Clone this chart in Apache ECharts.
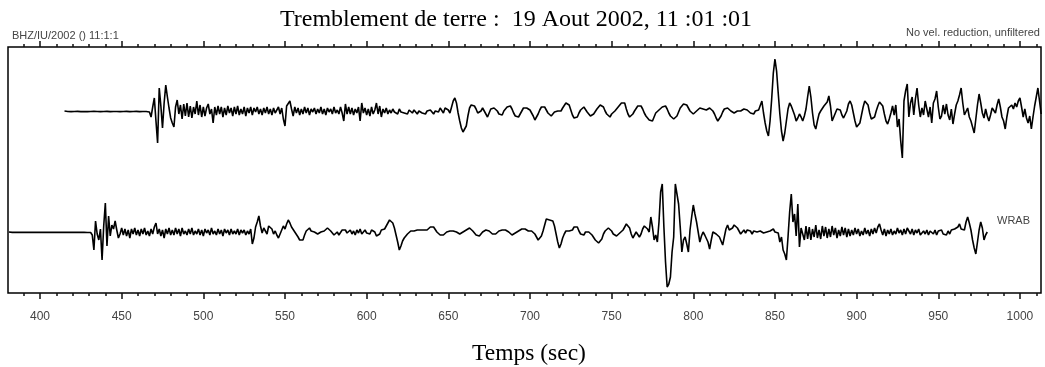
<!DOCTYPE html>
<html>
<head>
<meta charset="utf-8">
<script src="https://cdn.jsdelivr.net/npm/echarts@6/dist/echarts.min.js"></script>
<style>html,body{margin:0;padding:0;background:#fff;}#chart{width:1045px;height:367px;}</style>
</head>
<body>
<div id="chart"></div>
<script>
// ---- data (seconds, relative amplitude) ----
var titleText = 'Tremblement de terre :  19 Aout 2002, 11 :01 :01';
var xAxisName = 'Temps (sec)';
var headerLeft = 'BHZ/IU/2002 () 11:1:1';
var headerRight = 'No vel. reduction, unfiltered';
var stationLabel = 'WRAB';
var majorTicks = [400, 450, 500, 550, 600, 650, 700, 750, 800, 850, 900, 950, 1000];
var minorTicks = [390, 410, 420, 430, 440, 460, 470, 480, 490, 510, 520, 530, 540, 560, 570, 580, 590,
  610, 620, 630, 640, 660, 670, 680, 690, 710, 720, 730, 740, 760, 770, 780, 790, 810, 820, 830, 840,
  860, 870, 880, 890, 910, 920, 930, 940, 960, 970, 980, 990, 1010];
var xMin = 380.4, xMax = 1012.9;

var upperStart = 415; // one value per second
var upperValues = [
  0,0.6,-0.5,0.5,-0.6,0.4,-0.5,0.6,-0.4,0.5,
  -0.6,0.5,-0.5,0.4,-0.6,0.6,-0.5,0.5,-0.4,0.6,
  -0.5,0.4,-0.6,0.5,-0.5,0.6,-0.4,0.5,-0.6,0.5,
  -0.5,0.6,-0.5,0.4,-0.6,0.5,-0.5,0.6,-0.4,0.5,
  -0.6,0.5,-0.5,0.6,-0.4,0.5,-0.6,0.4,-0.5,0.6,
  -0.5,0.5,-1,-6,4,13,-10,-32,23,5,
  -17,8,26,14,3,-7,-12,-16,4,11,
  -3,6,-8,7,-5,8,-6,5,-7,4,
  -3,10,-4,6,-6,4,-5,3,7,-3,
  2,-12,4,-4,5,-3,4,-6,3,-4,
  5,-2,3,-5,4,-3,5,-4,2,-3,
  4,-5,3,-2,4,-4,3,-1,4,-3,
  2,-4,3,-2,4,-3,2,-4,3,-2,
  1,4,-3,3,-8,-15,5,3,10,2,
  -5,4,-2,3,-4,2,-3,4,-2,3,
  -4,2,-1,3,-3,2,-2,4,-3,2,
  -4,3,-1,2,-3,4,-2,1,-3,4,
  -2,-10,7,-3,4,-3,3,-4,2,-2,
  4,-10,8,-2,3,-4,2,-5,4,-3,
  1,8,-3,5,-6,2,-2,3,-3,1,
  -2,2,-1,1,-3,2,-1,1,-2,0,
  -3,1,-1,-2,1,-1,-3,0,2,-2,
  -1,-3,0,-2,1,-1,-3,0,2,-1,
  3,1,-2,3,2,1,-2,4,10,13,
  8,-2,-10,-17,-21,-22,-15,-5,3,6,
  4,5,2,-2,-3,0,3,1,-3,-6,
  -2,2,4,3,4,0,-3,-5,-4,0,
  2,4,6,5,2,-2,-5,-7,-6,-3,
  0,3,4,3,3,1,-2,-5,-9,-8,
  -3,1,4,3,4,1,-2,-4,-5,-4,
  -1,0,0,-2,0,3,5,8,9,6,
  1,-4,-7,-9,-6,-2,1,3,4,2,
  -1,-3,-5,-6,-3,-1,2,4,6,7,
  4,0,-3,-5,-6,-3,-4,0,2,4,
  6,8,7,8,2,-3,-6,-4,-3,0,
  2,5,4,5,2,-2,-5,-7,-9,-10,
  -10,-6,-2,0,1,3,4,5,5,2,
  -2,-5,-7,-8,-8,-5,-1,3,5,7,
  7,6,3,0,-2,-3,-2,0,1,3,
  2,2,0,1,3,3,2,0,-3,-7,
  -10,-9,-5,-1,2,3,3,2,0,-1,
  -2,-1,0,-2,0,1,2,2,1,0,
  -2,-1,-3,0,-2,1,2,10,-2,-12,
  -20,-25,-10,12,38,52,40,18,-3,-20,
  -30,-22,-10,2,8,5,3,-4,-10,-7,
  -3,-6,-10,-5,2,14,25,14,-2,-14,
  -18,-10,-3,0,2,5,5,9,15,5,
  -10,-6,-2,2,3,1,-4,-7,-6,0,
  7,10,6,-2,-10,-16,-18,-12,-4,4,
  10,12,6,-2,-8,-10,-6,0,5,9,
  10,5,-3,-10,-13,-8,-2,5,-4,6,
  -16,-8,-30,-47,10,20,27,-6,8,14,
  -4,12,23,6,-6,3,-4,10,2,-6,
  4,-12,8,12,20,4,-8,-5,6,-3,
  7,-4,-9,2,-13,-3,6,10,16,23,
  8,-4,-5,3,-6,-10,-16,-22,-8,6,
  17,8,-2,-7,2,-5,-10,-4,3,5,
  -2,6,12,4,-6,-10,-18,-6,3,1,
  6,2,8,4,10,13,4,-6,2,-7,
  -12,-5,-18,-6,5,14,23,10,-3
];

var lowerStart = 381; // one value per second
var lowerValues = [
  0,0.4,-0.4,0.3,-0.4,0.4,-0.3,0.4,-0.4,0.3,
  -0.4,0.4,-0.3,0.4,-0.4,0.3,-0.4,0.4,-0.3,0.4,
  -0.4,0.3,-0.4,0.4,-0.3,0.4,-0.4,0.3,-0.4,0.4,
  -0.3,0.4,-0.4,0.3,-0.4,0.4,-0.3,0.4,-0.4,0.3,
  -0.4,0.4,-0.3,0.4,-0.4,0.3,-0.4,0.4,-0.5,0.5,
  -0.5,-3,-18,11,-2,-8,3,-28,6,29,
  -14,16,-4,7,3,11,2,-6,-2,4,
  -3,3,-4,2,-6,3,-2,4,-3,2,
  -4,3,-2,4,-3,1,-4,3,-2,5,
  9,-2,3,-4,2,-6,3,-2,4,-3,
  2,-3,4,-2,3,-4,4,-2,1,-3,
  3,-2,4,-3,1,-2,3,-3,2,-4,
  3,-1,2,-3,4,-2,1,-3,3,-2,
  2,-4,3,-1,2,-3,3,-2,1,-2,
  3,-3,2,-1,2,-3,1,-2,3,-12,
  -6,5,10,16,6,-1,4,2,-2,6,
  8,3,-2,1,-3,-6,-4,2,6,3,
  8,12,9,5,4,0,-2,-5,-8,-6,
  -8,-3,1,2,4,1,2,0,-1,-2,
  -1,0,2,1,3,4,2,1,-1,-3,
  -2,0,-3,-1,2,0,2,-1,1,2,
  -2,1,-3,2,-1,3,-2,0,2,-1,
  1,-2,2,3,0,-4,-6,-2,2,4,
  3,5,9,12,11,9,4,-3,-10,-18,
  -14,-9,-6,-4,-2,0,1,2,1,2,
  2,1,2,1,2,3,2,3,5,6,
  5,3,0,-2,-3,-4,-3,-1,0,1,
  1,2,1,2,0,-1,-2,-1,0,1,
  2,3,4,3,1,-1,-3,-4,-4,-2,
  0,1,2,2,1,-1,-2,-3,-2,0,
  1,2,2,1,2,1,0,-2,-3,-2,
  -1,0,1,2,3,3,3,2,1,0,
  1,0,-2,-5,-8,-9,-4,1,7,13,
  14,12,11,11,6,-2,-10,-16,-12,-6,
  -2,1,0,1,0,2,5,7,5,1,
  -2,-4,-3,0,1,0,-2,-3,-5,-8,
  -10,-11,-11,-7,-2,1,3,4,4,1,
  -2,-3,-4,-4,-1,1,2,5,8,9,
  4,-2,-6,-3,0,2,-5,-2,3,6,
  8,3,0,15,5,-8,-3,-10,10,40,
  48,5,-30,-55,-52,-45,-20,-5,48,38,
  28,5,-20,-8,-5,-12,-20,2,15,27,
  18,10,0,-10,-4,0,-3,-5,-10,-17,
  -8,0,2,-2,-3,-5,-9,-13,-5,3,
  7,2,0,4,7,8,4,1,-2,0,
  2,-1,2,3,1,-2,1,2,0,-2,
  1,0,-1,1,0,-2,1,3,3,0,
  -2,-1,-10,-5,-18,-22,-28,-5,20,38,
  10,18,-4,28,-15,4,5,-8,6,-7,
  5,-8,3,-5,7,-6,2,-7,6,-4,
  5,-6,3,-5,6,-3,4,-6,2,-4,
  5,-3,4,-5,3,-4,2,-3,4,-2,
  3,-4,1,-3,4,-2,2,-4,3,-2,
  4,-1,5,8,2,-3,3,-4,2,-2,
  3,-3,1,-2,4,-1,2,-3,3,-2,
  4,1,-2,3,-3,2,-1,3,-3,-5,
  1,-2,2,-3,1,3,-2,2,-3,1,
  -1,2,-2,0,-3,1,-2,2,0,3,
  2,5,8,3,5,2,10,15,9,2,
  -8,-16,-22,-10,2,10,4,-8,-3,0
];

// ---- chart ----
var chart = echarts.init(document.getElementById('chart'), null, {renderer: 'canvas'});
function toPairs(start, vals) { return vals.map(function (v, i) { return [start + i, v]; }); }

var L = 8, R = 4, TOP = 47, BOT = 74;
var tickColor = '#111';
function baseX(extra) {
  var o = {type: 'value', min: xMin, max: xMax, axisLine: {show: false}, splitLine: {show: false},
    axisLabel: {show: false}, axisTick: {show: false}};
  for (var k in extra) o[k] = extra[k];
  return o;
}

var option = {
  animation: false,
  backgroundColor: '#fff',
  grid: [
    {left: L, right: R, top: TOP, bottom: BOT, show: true, borderColor: '#000', borderWidth: 1.5, backgroundColor: 'transparent'},
    {left: L, right: R, top: TOP, height: 128},
    {left: L, right: R, top: 175, height: 114}
  ],
  xAxis: [
    baseX({gridIndex: 0, position: 'bottom',
      axisTick: {show: true, length: 6, customValues: majorTicks, lineStyle: {color: tickColor, width: 1.5}},
      axisLabel: {show: true, customValues: majorTicks, margin: 18, fontSize: 12, color: '#444', fontFamily: 'Liberation Sans',
        formatter: function (v) { return String(Math.round(v)); }}}),
    baseX({gridIndex: 0, position: 'bottom',
      axisTick: {show: true, length: 3, customValues: minorTicks, lineStyle: {color: tickColor, width: 1.5}}}),
    baseX({gridIndex: 0, position: 'top',
      axisTick: {show: true, length: 6, customValues: majorTicks, lineStyle: {color: tickColor, width: 1.5}}}),
    baseX({gridIndex: 0, position: 'top',
      axisTick: {show: true, length: 3, customValues: minorTicks, lineStyle: {color: tickColor, width: 1.5}}}),
    baseX({gridIndex: 1, show: false}),
    baseX({gridIndex: 2, show: false})
  ],
  yAxis: [
    {gridIndex: 0, type: 'value', min: 0, max: 1, show: false},
    {gridIndex: 1, type: 'value', min: -64, max: 64, show: false},
    {gridIndex: 2, type: 'value', min: -57, max: 57, show: false}
  ],
  series: [
    {type: 'line', xAxisIndex: 4, yAxisIndex: 1, data: toPairs(upperStart, upperValues),
      symbol: 'none', lineStyle: {color: '#000', width: 1.6}, silent: true},
    {type: 'line', xAxisIndex: 5, yAxisIndex: 2, data: toPairs(lowerStart, lowerValues),
      symbol: 'none', lineStyle: {color: '#000', width: 1.6}, silent: true}
  ],
  graphic: [
    {type: 'text', x: 516, y: 19.5, style: {text: titleText, font: '24px "Liberation Serif"', fill: '#000', textAlign: 'center', textVerticalAlign: 'middle'}},
    {type: 'text', x: 529, y: 354, style: {text: xAxisName, font: '23.5px "Liberation Serif"', fill: '#000', textAlign: 'center', textVerticalAlign: 'middle'}},
    {type: 'text', x: 12, y: 35.5, style: {text: headerLeft, font: '11px "Liberation Sans"', fill: '#444', textAlign: 'left', textVerticalAlign: 'middle'}},
    {type: 'text', x: 906, y: 33, style: {text: headerRight, font: '11px "Liberation Sans"', fill: '#444', textAlign: 'left', textVerticalAlign: 'middle'}},
    {type: 'text', x: 997, y: 221, style: {text: stationLabel, font: '11px "Liberation Sans"', fill: '#444', textAlign: 'left', textVerticalAlign: 'middle'}}
  ]
};
chart.setOption(option);
</script>
</body>
</html>
